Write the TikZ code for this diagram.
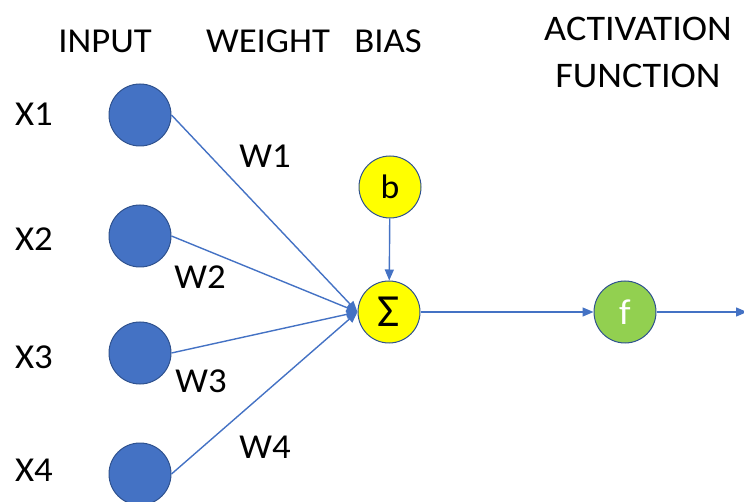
\documentclass[tikz,border=0pt]{standalone}
\usepackage{fontspec}
\setmainfont{Carlito}[FakeStretch=1.05]
\newfontfamily\widefont{Carlito}[FakeStretch=1.06]
\usetikzlibrary{arrows.meta}
\definecolor{nodeblue}{HTML}{4472C4}
\definecolor{rimblue}{HTML}{2F528F}
\definecolor{biasyellow}{HTML}{FFFF00}
\definecolor{actgreen}{HTML}{92D050}
\tikzset{
  neuron/.style={circle, draw=rimblue, line width=1pt, minimum size=62pt, inner sep=0pt},
  inputnode/.style={neuron, fill=nodeblue},
  sumnode/.style={neuron, fill=biasyellow, font=\fontsize{34}{34}\selectfont},
  actnode/.style={neuron, fill=actgreen, text=white, font=\fontsize{36}{36}\selectfont},
  lbl/.style={font=\fontsize{35}{47}\selectfont, align=center, inner sep=0pt},
  conn/.style={draw=nodeblue, line width=1.4pt, -{Triangle[length=11pt,width=9pt]}},
}
\begin{document}
\begin{tikzpicture}[x=1pt,y=-1pt]
  \useasboundingbox (0,0) rectangle (744,502);
  % headings
  \node[lbl] (hin) at (105,41) {INPUT};
  \node[lbl] (hw) at (268,41) {WEIGHT};
  \node[lbl] (hb) at (388,41) {BIAS};
  \node[lbl, font=\widefont\fontsize{36}{47}\selectfont] (ha) at (638,52.5) {ACTIVATION\\FUNCTION};
  % inputs
  \node[inputnode] (x1) at (140,115) {};
  \node[inputnode] (x2) at (140,236) {};
  \node[inputnode] (x3) at (140,353) {};
  \node[inputnode] (x4) at (140,474) {};
  \node[lbl] (lx1) at (34,114) {X1};
  \node[lbl] (lx2) at (34,239) {X2};
  \node[lbl] (lx3) at (34,357) {X3};
  \node[lbl] (lx4) at (34,470) {X4};
  % bias, summation and activation
  \node[sumnode] (b) at (390,187) {b};
  \node[sumnode, font=\fontsize{46}{46}\selectfont] (sum) at (389,312) {Σ};
  \node[actnode] (f) at (625,312) {f};
  \coordinate (out) at (747,312);
  % weights
  \node[lbl] (w1) at (265,156) {W1};
  \node[lbl] (w2) at (200,277) {W2};
  \node[lbl] (w3) at (201,381) {W3};
  \node[lbl] (w4) at (265,447) {W4};
  % connections
  \draw[conn] (x1.east) -- (sum.west);
  \draw[conn] (x2.east) -- (sum.west);
  \draw[conn] (x3.east) -- (sum.west);
  \draw[conn] (x4.east) -- (sum.west);
  \draw[conn] (b) -- (sum);
  \draw[conn] (sum) -- (f);
  \draw[conn] (f) -- (out);
\end{tikzpicture}
\end{document}
